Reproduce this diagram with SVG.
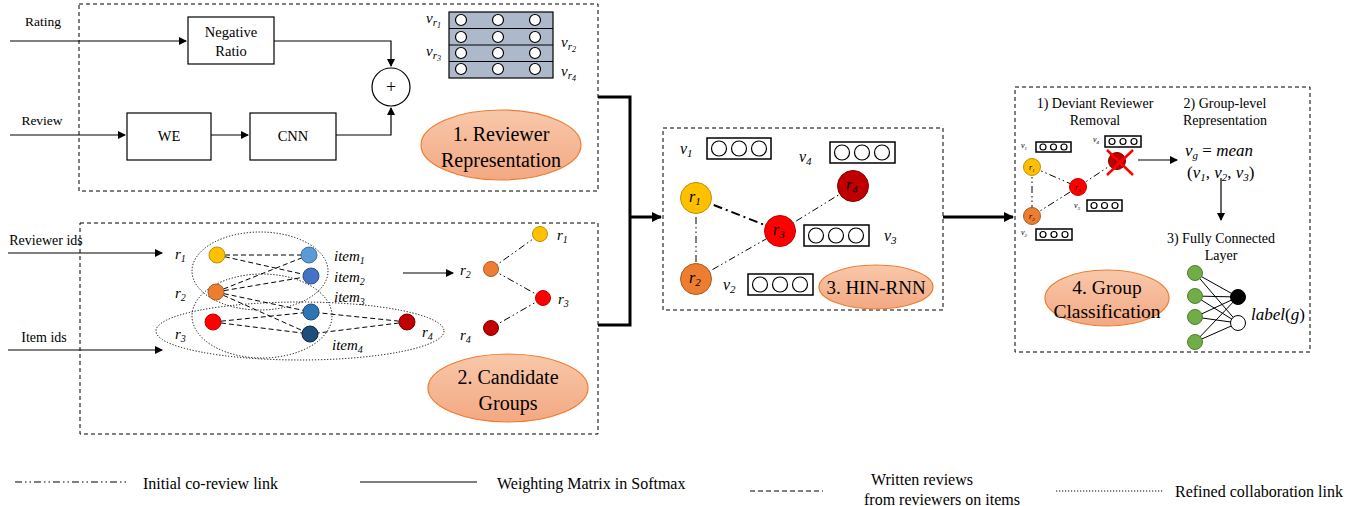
<svg xmlns="http://www.w3.org/2000/svg" width="1369" height="506" viewBox="0 0 1369 506">
<style>
.t{font-family:"Liberation Serif",serif;fill:#000}
.m{font-family:"Liberation Serif",serif;font-style:italic;fill:#000}
.box{fill:none;stroke:#000;stroke-width:1;stroke-dasharray:4 3}
.rect{fill:#fff;stroke:#000;stroke-width:1.2}
.ln{fill:none;stroke:#000;stroke-width:1.2}
.thick{fill:none;stroke:#000;stroke-width:3}
.dd{fill:none;stroke:#000;stroke-width:1;stroke-dasharray:7 3 1.5 3 1.5 3}
.dash{fill:none;stroke:#000;stroke-width:1;stroke-dasharray:5 3}
.dot{fill:none;stroke:#000;stroke-width:1;stroke-dasharray:1.2 1.8}
.oc{fill:#fff;stroke:#000;stroke-width:1.2}
.ell{fill:url(#sal);stroke:#ed7d31;stroke-width:1.2}
.vb{fill:#fff;stroke:#000;stroke-width:1.5}
</style>
<defs>
<linearGradient id="sal" x1="0" y1="0" x2="0" y2="1">
<stop offset="0" stop-color="#f8c8aa"/>
<stop offset="1" stop-color="#f3a882"/>
</linearGradient>
<marker id="ar" markerWidth="8" markerHeight="8" refX="7" refY="4" orient="auto" markerUnits="userSpaceOnUse">
<path d="M0,0 L8,4 L0,8 z" fill="#000"/>
</marker>
<marker id="art" markerWidth="10" markerHeight="10" refX="9" refY="5" orient="auto" markerUnits="userSpaceOnUse">
<path d="M0,0 L10,5 L0,10 z" fill="#000"/>
</marker>
</defs>

<!-- Panel 1 -->
<g id="panel1">
<rect class="box" x="79" y="4" width="519" height="187"/>
<text class="t" x="43" y="26" font-size="13.5" text-anchor="middle">Rating</text>
<text class="t" x="42" y="125" font-size="13.5" text-anchor="middle">Review</text>
</g>
<g id="neg-ratio">
<rect class="rect" x="188" y="17" width="86" height="47"/>
<text class="t" x="231" y="37" font-size="14.5" text-anchor="middle">Negative</text>
<text class="t" x="231" y="56" font-size="14.5" text-anchor="middle">Ratio</text>
</g>
<g id="we">
<rect class="rect" x="127" y="113" width="84" height="47"/>
<text class="t" x="169" y="141" font-size="14.5" text-anchor="middle">WE</text>
</g>
<g id="cnn">
<rect class="rect" x="250" y="113" width="86" height="47"/>
<text class="t" x="293" y="141" font-size="14.5" text-anchor="middle">CNN</text>
</g>
<g id="plus">
<circle class="oc" cx="391" cy="87" r="19"/>
<text class="t" x="391" y="93" font-size="18" text-anchor="middle">+</text>
</g>
<g id="matrix">
<rect x="449" y="12" width="104" height="66" fill="#adb9ca" stroke="#000" stroke-width="1.2"/>
<path d="M449,28.5H553M449,45H553M449,61.5H553" stroke="#000" stroke-width="1.2"/>
<g fill="#fff" stroke="#000" stroke-width="1.2">
<circle cx="461" cy="20" r="5.5"/><circle cx="498" cy="20" r="5.5"/><circle cx="535" cy="20" r="5.5"/>
<circle cx="461" cy="37" r="5.5"/><circle cx="498" cy="37" r="5.5"/><circle cx="535" cy="37" r="5.5"/>
<circle cx="461" cy="53" r="5.5"/><circle cx="498" cy="53" r="5.5"/><circle cx="535" cy="53" r="5.5"/>
<circle cx="461" cy="69" r="5.5"/><circle cx="498" cy="69" r="5.5"/><circle cx="535" cy="69" r="5.5"/>
</g>
<text class="m" x="426" y="23" font-size="15">v<tspan font-size="11" dy="3">r</tspan><tspan font-size="8" dy="2">1</tspan></text>
<text class="m" x="561" y="47" font-size="15">v<tspan font-size="11" dy="3">r</tspan><tspan font-size="8" dy="2">2</tspan></text>
<text class="m" x="426" y="56" font-size="15">v<tspan font-size="11" dy="3">r</tspan><tspan font-size="8" dy="2">3</tspan></text>
<text class="m" x="561" y="76" font-size="15">v<tspan font-size="11" dy="3">r</tspan><tspan font-size="8" dy="2">4</tspan></text>
</g>
<g id="label1">
<ellipse class="ell" cx="501" cy="145" rx="80" ry="35"/>
<text class="t" x="501" y="141" font-size="20" text-anchor="middle">1. Reviewer</text>
<text class="t" x="501" y="167" font-size="20" text-anchor="middle">Representation</text>
</g>

<!-- Panel 2 -->
<g id="panel2">
<rect class="box" x="80" y="223" width="518" height="211"/>
<text class="t" x="46" y="245" font-size="14" text-anchor="middle">Reviewer ids</text>
<text class="t" x="44" y="342" font-size="14" text-anchor="middle">Item ids</text>
<ellipse class="dot" cx="260" cy="271" rx="68" ry="39"/>
<ellipse class="dot" cx="262" cy="316" rx="70" ry="42"/>
<ellipse class="dot" cx="300" cy="331" rx="144" ry="29"/>
</g>
<g id="bip-edges">
<path class="dash" d="M217,255L309,255M217,255L311,276M216,292L309,255M216,292L311,276M216,292L311,312M216,292L310,334M213,322L311,312M213,322L310,334M407,322L311,312M407,322L310,334"/>
</g>
<g id="bip-nodes" stroke-width="1">
<circle cx="217" cy="255" r="8" fill="#ffc000" stroke="#bf9000"/>
<circle cx="216" cy="292" r="8" fill="#ed7d31" stroke="#ae5a21"/>
<circle cx="213" cy="322" r="8" fill="#ff0000" stroke="#c00000"/>
<circle cx="407" cy="322" r="8" fill="#c00000" stroke="#800000"/>
<circle cx="309" cy="255" r="8" fill="#5b9bd5" stroke="#41719c"/>
<circle cx="311" cy="276" r="8" fill="#4472c4" stroke="#2f528f"/>
<circle cx="311" cy="312" r="8" fill="#2e75b6" stroke="#1f4e79"/>
<circle cx="310" cy="334" r="8" fill="#1f4e79" stroke="#10263d"/>
</g>
<g id="bip-labels">
<text class="m" x="175" y="259" font-size="15">r<tspan font-size="10" dy="3">1</tspan></text>
<text class="m" x="175" y="298" font-size="15">r<tspan font-size="10" dy="3">2</tspan></text>
<text class="m" x="175" y="339" font-size="15">r<tspan font-size="10" dy="3">3</tspan></text>
<text class="m" x="422" y="337" font-size="15">r<tspan font-size="10" dy="3">4</tspan></text>
<text class="m" x="334" y="261" font-size="15">item<tspan font-size="10" dy="3">1</tspan></text>
<text class="m" x="334" y="282" font-size="15">item<tspan font-size="10" dy="3">2</tspan></text>
<text class="m" x="334" y="302" font-size="15">item<tspan font-size="10" dy="3">3</tspan></text>
<text class="m" x="332" y="350" font-size="15">item<tspan font-size="10" dy="3">4</tspan></text>
</g>
<g id="cand-graph">
<path class="dd" d="M540,234L491,269M491,269L543,298M543,298L491,328"/>
<circle cx="540" cy="234" r="7.5" fill="#ffc000" stroke="#bf9000"/>
<circle cx="491" cy="269" r="7.5" fill="#ed7d31" stroke="#ae5a21"/>
<circle cx="543" cy="298" r="7.5" fill="#ff0000" stroke="#c00000"/>
<circle cx="491" cy="328" r="7.5" fill="#c00000" stroke="#800000"/>
<text class="m" x="557" y="240" font-size="15">r<tspan font-size="10" dy="3">1</tspan></text>
<text class="m" x="460" y="275" font-size="15">r<tspan font-size="10" dy="3">2</tspan></text>
<text class="m" x="558" y="304" font-size="15">r<tspan font-size="10" dy="3">3</tspan></text>
<text class="m" x="460" y="340" font-size="15">r<tspan font-size="10" dy="3">4</tspan></text>
</g>
<g id="label2">
<ellipse class="ell" cx="508" cy="388" rx="80" ry="34"/>
<text class="t" x="508" y="384" font-size="20" text-anchor="middle">2. Candidate</text>
<text class="t" x="508" y="410" font-size="20" text-anchor="middle">Groups</text>
</g>

<!-- Panel 3 -->
<g id="panel3">
<rect class="box" x="663" y="128" width="280" height="182"/>
</g>
<g id="hin-graph">
<path class="dd" d="M696,198L696,279M696,279L780,231M780,231L853,186"/>
<path d="M696,198L780,231" fill="none" stroke="#000" stroke-width="2" stroke-dasharray="9 4 2 4"/>
<circle cx="696" cy="198" r="15.5" fill="#ffc000" stroke="#bf9000"/>
<circle cx="696" cy="279" r="15.5" fill="#ed7d31" stroke="#ae5a21"/>
<circle cx="780" cy="231" r="15.5" fill="#ff0000" stroke="#c00000"/>
<circle cx="853" cy="186" r="15.5" fill="#c00000" stroke="#800000"/>
<text class="m" x="689" y="202" font-size="16">r<tspan font-size="11" dy="3">1</tspan></text>
<text class="m" x="689" y="283" font-size="16">r<tspan font-size="11" dy="3">2</tspan></text>
<text class="m" x="773" y="235" font-size="16">r<tspan font-size="11" dy="3">3</tspan></text>
<text class="m" x="846" y="190" font-size="16">r<tspan font-size="11" dy="3">4</tspan></text>
</g>
<g id="hin-vecs">
<rect class="vb" x="707" y="138" width="64" height="21"/>
<circle class="oc" cx="719" cy="148.5" r="7.5"/><circle class="oc" cx="739" cy="148.5" r="7.5"/><circle class="oc" cx="759" cy="148.5" r="7.5"/>
<rect class="vb" x="830" y="142" width="65" height="21"/>
<circle class="oc" cx="842" cy="152.5" r="7.5"/><circle class="oc" cx="862" cy="152.5" r="7.5"/><circle class="oc" cx="882" cy="152.5" r="7.5"/>
<rect class="vb" x="804" y="225" width="65" height="21"/>
<circle class="oc" cx="816" cy="235.5" r="7.5"/><circle class="oc" cx="836" cy="235.5" r="7.5"/><circle class="oc" cx="856" cy="235.5" r="7.5"/>
<rect class="vb" x="748" y="274" width="65" height="21"/>
<circle class="oc" cx="760" cy="284.5" r="7.5"/><circle class="oc" cx="780" cy="284.5" r="7.5"/><circle class="oc" cx="800" cy="284.5" r="7.5"/>
<text class="m" x="680" y="154" font-size="16">v<tspan font-size="11" dy="3">1</tspan></text>
<text class="m" x="799" y="162" font-size="16">v<tspan font-size="11" dy="3">4</tspan></text>
<text class="m" x="884" y="241" font-size="16">v<tspan font-size="11" dy="3">3</tspan></text>
<text class="m" x="723" y="290" font-size="16">v<tspan font-size="11" dy="3">2</tspan></text>
</g>
<g id="label3">
<ellipse class="ell" cx="876" cy="287" rx="57" ry="22"/>
<text class="t" x="876" y="294" font-size="19" text-anchor="middle">3. HIN-RNN</text>
</g>

<!-- Panel 4 -->
<g id="panel4">
<rect class="box" x="1015" y="87" width="295" height="265"/>
<text class="t" x="1095" y="108" font-size="14" text-anchor="middle">1) Deviant Reviewer</text>
<text class="t" x="1095" y="125" font-size="14" text-anchor="middle">Removal</text>
<text class="t" x="1225" y="108" font-size="14" text-anchor="middle">2) Group-level</text>
<text class="t" x="1225" y="125" font-size="14" text-anchor="middle">Representation</text>
<text class="t" x="1221" y="243" font-size="14" text-anchor="middle">3) Fully Connected</text>
<text class="t" x="1221" y="260" font-size="14" text-anchor="middle">Layer</text>
</g>
<g id="dev-graph">
<path class="dd" d="M1032,167L1032,216M1032,167L1078,187M1032,216L1078,187M1078,187L1117,161" stroke-width="0.8"/>
<circle cx="1032" cy="167" r="8.5" fill="#ffc000" stroke="#bf9000"/>
<circle cx="1032" cy="216" r="8.5" fill="#ed7d31" stroke="#ae5a21"/>
<circle cx="1078" cy="187" r="8.5" fill="#ff0000" stroke="#c00000"/>
<circle cx="1117" cy="161" r="8.5" fill="#c00000" stroke="#800000"/>
<text class="m" x="1029" y="170" font-size="8">r<tspan font-size="5" dy="2">1</tspan></text>
<text class="m" x="1029" y="219" font-size="8">r<tspan font-size="5" dy="2">2</tspan></text>
<text class="m" x="1075" y="190" font-size="8">r<tspan font-size="5" dy="2">3</tspan></text>
<text class="m" x="1114" y="164" font-size="8">r<tspan font-size="5" dy="2">4</tspan></text>
<path d="M1107,150L1133,175M1133,150L1107,175" stroke="#ff0000" stroke-width="2.5"/>
<rect class="vb" x="1036" y="142" width="35" height="10" stroke-width="1"/>
<circle class="oc" cx="1043" cy="147" r="3" stroke-width="1"/><circle class="oc" cx="1053.5" cy="147" r="3" stroke-width="1"/><circle class="oc" cx="1064" cy="147" r="3" stroke-width="1"/>
<rect class="vb" x="1105" y="136" width="36" height="11" stroke-width="1"/>
<circle class="oc" cx="1112" cy="141.5" r="3" stroke-width="1"/><circle class="oc" cx="1123" cy="141.5" r="3" stroke-width="1"/><circle class="oc" cx="1134" cy="141.5" r="3" stroke-width="1"/>
<rect class="vb" x="1087" y="200" width="35" height="11" stroke-width="1"/>
<circle class="oc" cx="1094" cy="205.5" r="3" stroke-width="1"/><circle class="oc" cx="1104.5" cy="205.5" r="3" stroke-width="1"/><circle class="oc" cx="1115" cy="205.5" r="3" stroke-width="1"/>
<rect class="vb" x="1036" y="229" width="36" height="11" stroke-width="1"/>
<circle class="oc" cx="1043" cy="234.5" r="3" stroke-width="1"/><circle class="oc" cx="1054" cy="234.5" r="3" stroke-width="1"/><circle class="oc" cx="1065" cy="234.5" r="3" stroke-width="1"/>
<text class="m" x="1021" y="148" font-size="8">v<tspan font-size="5" dy="2">1</tspan></text>
<text class="m" x="1093" y="142" font-size="8">v<tspan font-size="5" dy="2">4</tspan></text>
<text class="m" x="1074" y="208" font-size="8">v<tspan font-size="5" dy="2">3</tspan></text>
<text class="m" x="1021" y="235" font-size="8">v<tspan font-size="5" dy="2">2</tspan></text>
</g>
<g id="vg">
<text class="m" x="1185" y="156" font-size="17">v<tspan font-size="11" dy="3">g</tspan><tspan dy="-3" font-style="normal"> = </tspan>mean</text>
<text class="m" x="1187" y="178" font-size="17"><tspan font-style="normal">(</tspan>v<tspan font-size="11" dy="3">1</tspan><tspan dy="-3" font-style="normal">, </tspan>v<tspan font-size="11" dy="3">2</tspan><tspan dy="-3" font-style="normal">, </tspan>v<tspan font-size="11" dy="3">3</tspan><tspan dy="-3" font-style="normal">)</tspan></text>
</g>
<g id="fc">
<path d="M1195,273L1238,297M1195,273L1238,323M1195,296L1238,297M1195,296L1238,323M1195,317L1238,297M1195,317L1238,323M1195,342L1238,297M1195,342L1238,323" stroke="#000" stroke-width="1"/>
<g fill="#70ad47" stroke="#507e32" stroke-width="1">
<circle cx="1195" cy="273" r="7.5"/><circle cx="1195" cy="296" r="7.5"/><circle cx="1195" cy="317" r="7.5"/><circle cx="1195" cy="342" r="7.5"/>
</g>
<circle cx="1238" cy="297" r="7.5" fill="#000" stroke="#000"/>
<circle cx="1238" cy="323" r="7.5" fill="#fff" stroke="#000"/>
<text class="m" x="1251" y="320" font-size="17">label<tspan font-style="normal">(</tspan>g<tspan font-style="normal">)</tspan></text>
</g>
<g id="label4">
<ellipse class="ell" cx="1107" cy="298" rx="62" ry="28"/>
<text class="t" x="1107" y="294" font-size="19.5" text-anchor="middle">4. Group</text>
<text class="t" x="1107" y="318" font-size="19.5" text-anchor="middle">Classification</text>
</g>

<!-- Connectors -->
<g id="connectors">
<path class="ln" d="M10,41H186" marker-end="url(#ar)"/>
<path class="ln" d="M274,41H391V66" marker-end="url(#ar)"/>
<path class="ln" d="M10,135H125" marker-end="url(#ar)"/>
<path class="ln" d="M211,135H248" marker-end="url(#ar)"/>
<path class="ln" d="M336,135H391V108" marker-end="url(#ar)"/>
<path class="ln" d="M8,253H162" marker-end="url(#ar)"/>
<path class="ln" d="M8,350H162" marker-end="url(#ar)"/>
<path class="ln" d="M403,273H453" marker-end="url(#ar)"/>
<path class="thick" d="M598,97H630V325H598"/>
<path class="thick" d="M630,217H661" marker-end="url(#art)"/>
<path class="thick" d="M943,217H1013" marker-end="url(#art)"/>
<path class="ln" d="M1138,160H1177" marker-end="url(#ar)"/>
<path class="ln" d="M1221,178V220" marker-end="url(#ar)"/>
</g>

<!-- Legend -->
<g id="legend">
<path d="M15,482H128" fill="none" stroke="#000" stroke-width="1.2" stroke-dasharray="7 3 1.5 3 1.5 3"/>
<text class="t" x="143" y="489" font-size="16">Initial co-review link</text>
<path d="M360,482H477" stroke="#000" stroke-width="1.2"/>
<text class="t" x="497" y="489" font-size="16">Weighting Matrix in Softmax</text>
<path d="M750,491H823" class="dash"/>
<text class="t" x="922" y="485" font-size="16" text-anchor="middle">Written reviews</text>
<text class="t" x="942" y="505" font-size="16" text-anchor="middle">from reviewers on items</text>
<path d="M1056,491H1163" class="dot"/>
<text class="t" x="1175" y="497" font-size="16">Refined collaboration link</text>
</g>
</svg>
